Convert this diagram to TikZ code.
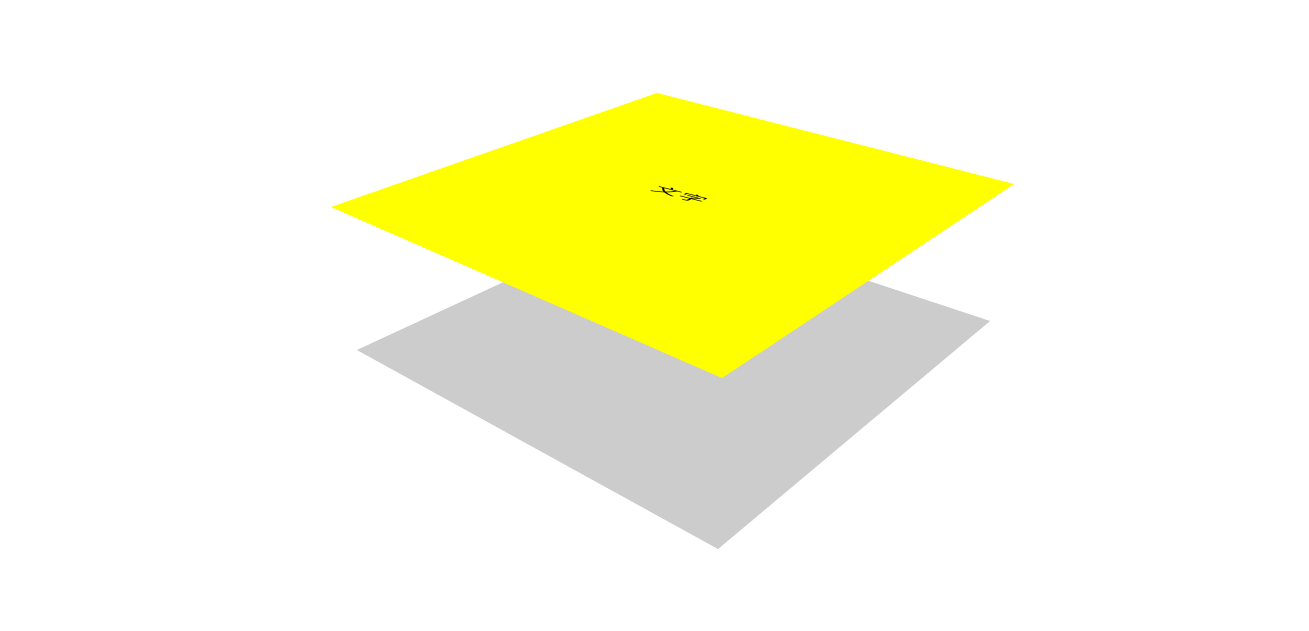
\documentclass[tikz,border=0pt]{standalone}
\usepackage{fontspec}
\newfontfamily\cjk{Noto Sans CJK SC}
\definecolor{platey}{HTML}{FFFF00}
\definecolor{plateg}{HTML}{CCCCCC}
\begin{document}
\begin{tikzpicture}[x=1pt, y=-1pt,
        plate/.style={draw=none},
        label/.style={inner sep=0pt, transform shape, font=\cjk\fontsize{20}{20}\selectfont}]
            \useasboundingbox (0,0) rectangle (1309,631);

            % Lower plate (gray)
            \fill[plate, plateg] (357,350) -- (657,211) -- (990,321) -- (718,549) -- cycle;

            % Upper plate (yellow)
            \fill[plate, platey] (331,207) -- (657,93) -- (1014,184) -- (722,378) -- cycle;

            % Text lying on the upper plate
            \begin{scope}[shift={(680,195)}, cm={1.26,-0.321,0.627,0.310,(0,0)}]
                \node[label] (txt) at (0,0) {文字};
            \end{scope}
        \end{tikzpicture}
\end{document}
